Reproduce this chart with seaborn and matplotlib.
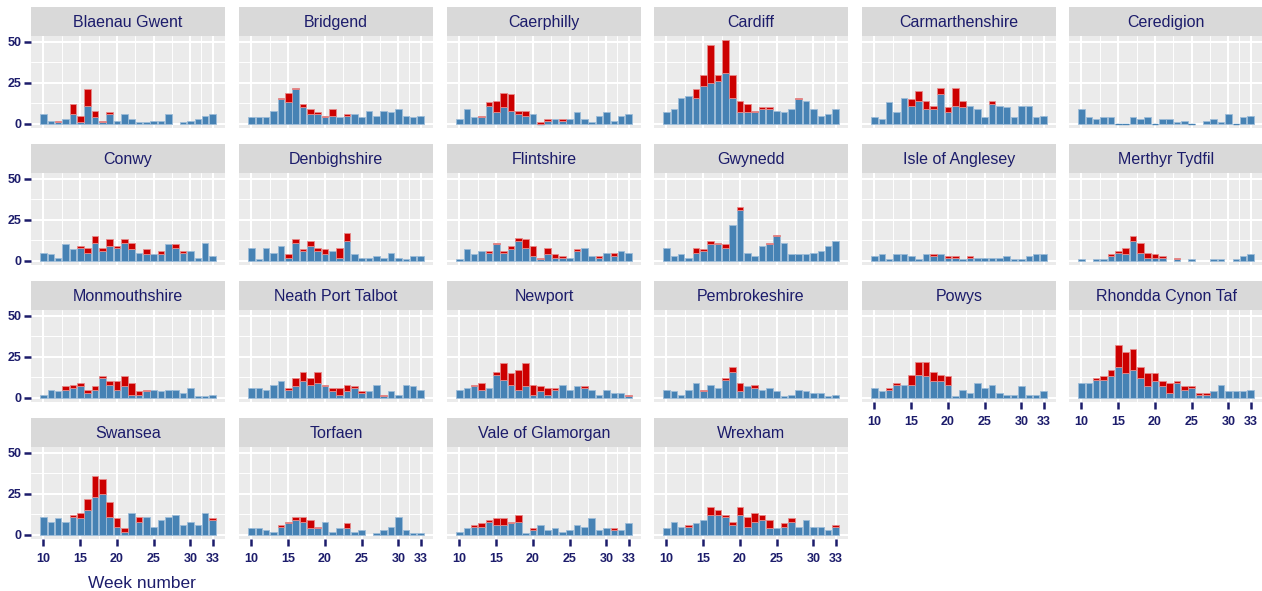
import matplotlib

matplotlib.use("Agg")

import matplotlib.pyplot as plt
import numpy as np
import seaborn as sns

nan = np.nan

weeks = list(range(10, 34))

areas = [
    "Blaenau Gwent", "Bridgend", "Caerphilly", "Cardiff", "Carmarthenshire", "Ceredigion",
    "Conwy", "Denbighshire", "Flintshire", "Gwynedd", "Isle of Anglesey", "Merthyr Tydfil",
    "Monmouthshire", "Neath Port Talbot", "Newport", "Pembrokeshire", "Powys", "Rhondda Cynon Taf",
    "Swansea", "Torfaen", "Vale of Glamorgan", "Wrexham",
]

# lower (blue) part of each weekly bar
blue_cases = {
    "Blaenau Gwent": [6, 2, 1, 3, 6, 1, 11, 4, 1, 6, 2, 6, 3, 1, 1, 2, 2, 6, nan, 1, 2, 3, 5, 6],
    "Bridgend": [4, 4, 4, 8, 15, 13, 21, 10, 6, 6, 4, 5, 4, 5, 6, 4, 8, 5, 8, 7, 9, 5, 4, 5],
    "Caerphilly": [3, 9, 4, 4, 11, 7, 10, 8, 6, 5, 6, 0, 2, 3, 2, 3, 7, 3, 1, 5, 7, 2, 5, 6],
    "Cardiff": [7, 9, 16, 17, 16, 23, 25, 26, 31, 16, 7, 7, 7, 9, 9, 8, 7, 9, 15, 14, 9, 5, 6, 9],
    "Carmarthenshire": [4, 3, 13, 7, 16, 11, 14, 9, 9, 18, 7, 11, 10, 11, 9, 4, 12, 11, 10, 4, 11, 11, 4, 5],
    "Ceredigion": [9, 4, 3, 4, 4, 0, 0, 4, 3, 4, 0, 3, 3, 1, 2, 0, nan, 2, 3, 1, 6, 0, 4, 5],
    "Conwy": [5, 4, 2, 10, 7, 8, 5, 11, 6, 9, 8, 11, 7, 5, 4, 4, 4, 10, 8, 5, 6, 2, 11, 3],
    "Denbighshire": [8, 1, 8, 5, 9, 2, 11, 6, 9, 6, 4, 6, 2, 12, 4, 2, 2, 3, 2, 5, 2, 1, 3, 3],
    "Flintshire": [1, 7, 4, 6, 5, 10, 5, 7, 12, 8, 3, 1, 4, 2, 2, 2, 6, 8, 3, 2, 5, 3, 6, 5],
    "Gwynedd": [8, 3, 4, 2, 5, 6, 10, 10, 8, 22, 31, 5, 3, 9, 10, 15, 11, 4, 4, 4, 5, 6, 9, 12],
    "Isle of Anglesey": [3, 4, 1, 4, 4, 3, 1, 4, 3, 4, 2, 2, 1, 2, 2, 2, 2, 2, 3, 1, 1, 3, 4, 4],
    "Merthyr Tydfil": [1, nan, 1, 1, 3, 5, 4, 12, 5, 2, 2, 2, nan, 1, nan, 1, nan, nan, 1, 1, nan, 1, 3, 4],
    "Monmouthshire": [2, 5, 4, 5, 6, 7, 3, 5, 12, 8, 5, 7, 2, 2, 4, 5, 4, 5, 5, 3, 6, 1, 1, 2],
    "Neath Port Talbot": [6, 6, 5, 8, 10, 5, 7, 10, 8, 9, 7, 4, 2, 4, 6, 3, 4, 8, 1, 4, 2, 8, 7, 5],
    "Newport": [5, 6, 7, 5, 6, 14, 11, 8, 5, 7, 2, 4, 2, 5, 8, 5, 7, 6, 5, 2, 5, 3, 3, 1],
    "Pembrokeshire": [5, 4, 2, 5, 9, 4, 8, 6, 11, 16, 4, 7, 6, 5, 6, 4, 1, 2, 5, 4, 3, 3, 1, 2],
    "Powys": [6, 4, 5, 8, 8, 8, 14, 13, 10, 10, 8, 1, 5, 3, 9, 6, 8, 3, 2, 2, 7, 2, 2, 4],
    "Rhondda Cynon Taf": [9, 9, 11, 11, 13, 19, 15, 17, 12, 7, 10, 7, 3, 9, 5, 6, 2, 2, 4, 8, 4, 4, 4, 5],
    "Swansea": [11, 8, 10, 8, 11, 10, 15, 23, 25, 11, 5, 2, 13, 8, 11, 5, 9, 11, 12, 6, 8, 6, 13, 9],
    "Torfaen": [4, 4, 3, 2, 5, 7, 9, 8, 4, 4, 8, 2, 4, 4, 2, 3, nan, 1, 3, 5, 11, 3, 1, 1],
    "Vale of Glamorgan": [2, 4, 5, 5, 8, 6, 6, 7, 8, 1, 3, 6, 3, 4, 2, 3, 6, 5, 10, 3, 4, 3, 3, 7],
    "Wrexham": [4, 8, 5, 5, 7, 9, 12, 12, 11, 6, 12, 5, 8, 9, 4, 4, 5, 8, 5, 9, 5, 5, 3, 5],
}

# upper (red) part stacked on top
red_cases = {
    "Blaenau Gwent": [0, 0, 1, 0, 6, 4, 10, 4, 1, 1, 0, 0, 0, 0, 0, 0, 0, 0, 0, 0, 0, 0, 0, 0],
    "Bridgend": [0, 0, 0, 0, 1, 6, 1, 2, 3, 1, 1, 4, 0, 1, 0, 0, 0, 0, 0, 0, 0, 0, 0, 0],
    "Caerphilly": [0, 0, 0, 1, 2, 7, 9, 10, 2, 3, 0, 1, 1, 0, 1, 0, 0, 0, 0, 0, 0, 0, 0, 0],
    "Cardiff": [0, 0, 0, 0, 5, 7, 23, 4, 20, 14, 7, 5, 1, 1, 1, 0, 0, 0, 1, 0, 0, 0, 0, 0],
    "Carmarthenshire": [0, 0, 0, 0, 0, 4, 6, 5, 2, 4, 3, 11, 4, 0, 0, 0, 2, 0, 0, 0, 0, 0, 0, 0],
    "Ceredigion": [0] * 24,
    "Conwy": [0, 0, 0, 0, 0, 1, 3, 4, 2, 4, 1, 2, 4, 0, 3, 0, 2, 0, 2, 1, 0, 0, 0, 0],
    "Denbighshire": [0, 0, 0, 0, 0, 2, 2, 1, 3, 2, 3, 0, 6, 5, 0, 0, 0, 0, 0, 0, 0, 0, 0, 0],
    "Flintshire": [0, 0, 0, 0, 1, 1, 1, 2, 2, 5, 6, 1, 4, 2, 1, 0, 1, 0, 0, 1, 0, 2, 0, 0],
    "Gwynedd": [0, 0, 0, 0, 3, 1, 2, 1, 2, 0, 2, 0, 0, 0, 1, 1, 0, 0, 0, 0, 0, 0, 0, 0],
    "Isle of Anglesey": [0, 0, 0, 0, 0, 0, 0, 0, 1, 0, 1, 1, 0, 1, 0, 0, 0, 0, 0, 0, 0, 0, 0, 0],
    "Merthyr Tydfil": [0, 0, 0, 0, 1, 1, 4, 3, 6, 3, 2, 1, 0, 1, 0, 0, 0, 0, 0, 0, 0, 0, 0, 0],
    "Monmouthshire": [0, 0, 0, 2, 2, 2, 2, 2, 1, 2, 5, 6, 7, 2, 1, 0, 0, 0, 0, 0, 0, 0, 0, 0],
    "Neath Port Talbot": [0, 0, 0, 0, 0, 1, 5, 6, 4, 7, 1, 2, 4, 4, 1, 1, 0, 0, 1, 0, 0, 0, 0, 0],
    "Newport": [0, 0, 1, 4, 0, 2, 10, 7, 12, 14, 6, 3, 4, 1, 0, 0, 0, 1, 0, 0, 0, 0, 0, 1],
    "Pembrokeshire": [0, 0, 0, 0, 0, 1, 0, 0, 1, 3, 5, 0, 2, 0, 0, 0, 0, 0, 0, 0, 0, 0, 0, 0],
    "Powys": [0, 0, 1, 1, 0, 6, 8, 9, 6, 4, 5, 0, 0, 0, 0, 0, 0, 0, 0, 0, 0, 0, 0, 0],
    "Rhondda Cynon Taf": [0, 0, 1, 2, 4, 13, 13, 13, 7, 8, 5, 3, 6, 1, 2, 1, 1, 1, 0, 0, 0, 0, 0, 0],
    "Swansea": [0, 0, 0, 0, 1, 3, 7, 13, 9, 9, 5, 2, 0, 3, 0, 0, 0, 0, 0, 0, 0, 0, 0, 1],
    "Torfaen": [0, 0, 0, 0, 1, 1, 2, 3, 5, 1, 0, 0, 0, 3, 0, 0, 0, 0, 0, 0, 0, 0, 0, 0],
    "Vale of Glamorgan": [0, 0, 1, 2, 1, 4, 4, 1, 4, 0, 1, 0, 0, 0, 0, 0, 0, 0, 0, 0, 0, 1, 0, 0],
    "Wrexham": [0, 0, 0, 1, 0, 0, 5, 3, 1, 2, 5, 6, 5, 3, 5, 0, 2, 2, 0, 0, 0, 0, 0, 1],
}

x_ticks = [10, 15, 20, 25, 30, 33]
y_ticks = [0, 25, 50]

NAVY = "#1c1c6b"
BLUE = "#4682b4"
RED = "#cc0000"

sns.set_theme(style="darkgrid", rc={"axes.facecolor": "#ebebeb", "grid.color": "white"})
plt.rcParams["font.family"] = ["Liberation Sans", "DejaVu Sans"]

W, H = 1262, 591
fig = plt.figure(figsize=(W / 100, H / 100), dpi=100)

col_left = [31, 239, 447, 654, 862, 1069]
row_top = [7, 144, 281, 418]
panel_w, strip_h, panel_h = 194, 29, 92

for i, area in enumerate(areas):
    r, c = divmod(i, 6)
    x0, y0 = col_left[c], row_top[r]

    strip = fig.add_axes([x0 / W, 1 - (y0 + strip_h) / H, panel_w / W, strip_h / H])
    strip.set_facecolor("#d9d9d9")
    strip.set_xticks([])
    strip.set_yticks([])
    strip.grid(False)
    for s in strip.spines.values():
        s.set_visible(False)
    strip.text(0.5, 0.48, area, ha="center", va="center", fontsize=11.5, color=NAVY,
               transform=strip.transAxes)

    ax = fig.add_axes([x0 / W, 1 - (y0 + strip_h + panel_h) / H, panel_w / W, panel_h / H])
    blue = np.array(blue_cases[area], dtype=float)
    red = np.array(red_cases[area], dtype=float)
    wk = np.array(weeks)

    ok = ~np.isnan(blue)
    ax.bar(wk[ok], blue[ok], width=0.9, color=BLUE, edgecolor="#9dbcd8", linewidth=0.6, zorder=3)
    # weeks with a zero count still show as a flat line
    zero = ok & (np.nan_to_num(blue) == 0)
    ax.bar(wk[zero], blue[zero], width=0.9, color=BLUE, edgecolor=BLUE, linewidth=1.0, zorder=3)
    on = ok & (red > 0)
    ax.bar(wk[on], red[on], bottom=blue[on], width=0.9, color=RED, edgecolor="#e68a8a",
           linewidth=0.6, zorder=3)

    ax.set_xlim(8.3, 34.7)
    ax.set_ylim(-2.55, 53.55)
    ax.set_xticks(x_ticks)
    ax.set_xticks([12.5, 17.5, 22.5, 27.5, 31.5], minor=True)
    ax.set_yticks(y_ticks)
    ax.set_yticks([12.5, 37.5], minor=True)
    ax.grid(which="major", color="white", linewidth=1.5)
    ax.grid(which="minor", color="white", linewidth=0.7)
    ax.set_axisbelow(True)
    for s in ax.spines.values():
        s.set_visible(False)

    show_x = r == 3 or (r == 2 and c >= 4)
    show_y = c == 0
    ax.tick_params(axis="x", which="major", bottom=show_x, labelbottom=show_x, length=5,
                   width=1.8, color=NAVY, labelcolor=NAVY, labelsize=9, pad=5)
    ax.tick_params(axis="y", which="major", left=show_y, labelleft=show_y, length=5,
                   width=1.8, color=NAVY, labelcolor=NAVY, labelsize=9, pad=2)
    ax.tick_params(which="minor", bottom=False, left=False)
    for lab in ax.get_xticklabels() + ax.get_yticklabels():
        lab.set_fontweight("bold")
    ax.set_xlabel("")
    ax.set_ylabel("")

fig.text(142 / W, 1 - 583 / H, "Week number", ha="center", va="center", fontsize=12.5, color=NAVY)

fig.savefig("out.png", dpi=100)
